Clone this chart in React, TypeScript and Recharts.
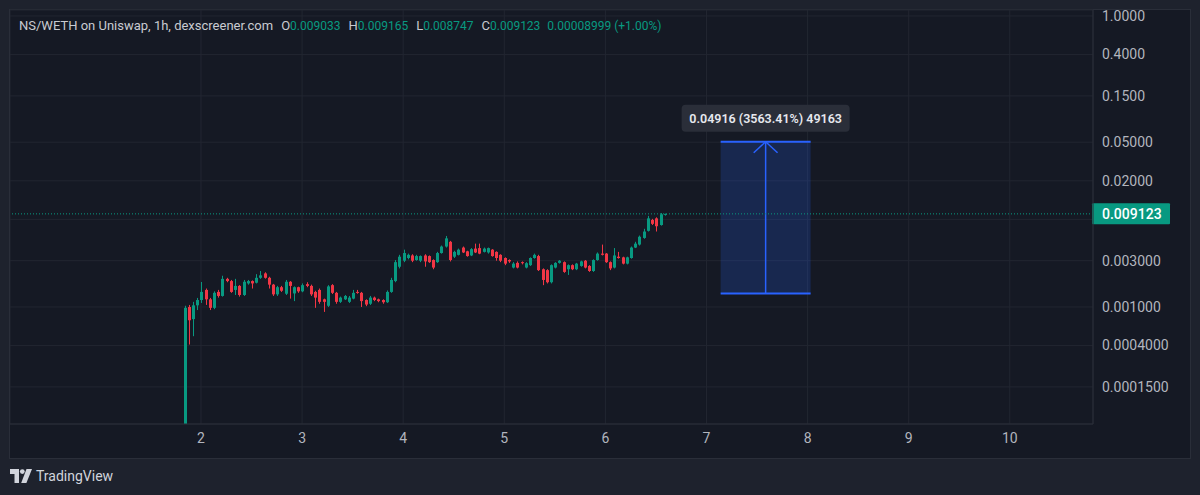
import {
  ComposedChart, Bar, XAxis, YAxis, CartesianGrid, ReferenceLine, ReferenceArea,
} from 'recharts';

const GREEN = '#089981';
const RED = '#f23645';
const BLUE = '#2962ff';
const TEXT = '#b2b5be';

// hourly candles, the first one opens at 20:00 on day 1
const firstHour = 1 + 20 / 24;

// [open, high, low, close] in WETH
const ohlc: [number, number, number, number][] = [
  [0.00006, 0.00103, 0.00006, 0.00098],
  [0.00100, 0.00105, 0.00041, 0.00073],
  [0.00075, 0.00113, 0.00050, 0.00104],
  [0.00104, 0.00124, 0.00093, 0.00118],
  [0.00118, 0.00181, 0.00110, 0.00143],
  [0.00150, 0.00155, 0.00105, 0.00120],
  [0.00120, 0.00124, 0.00093, 0.00098],
  [0.00098, 0.00145, 0.00095, 0.00140],
  [0.00143, 0.00150, 0.00125, 0.00130],
  [0.00130, 0.00210, 0.00128, 0.00195],
  [0.00195, 0.00200, 0.00180, 0.00185],
  [0.00185, 0.00190, 0.00140, 0.00143],
  [0.00150, 0.00195, 0.00133, 0.00165],
  [0.00165, 0.00168, 0.00128, 0.00133],
  [0.00133, 0.00190, 0.00130, 0.00182],
  [0.00175, 0.00190, 0.00170, 0.00185],
  [0.00185, 0.00188, 0.00155, 0.00175],
  [0.00178, 0.00218, 0.00175, 0.00200],
  [0.00200, 0.00235, 0.00195, 0.00212],
  [0.00222, 0.00228, 0.00196, 0.00200],
  [0.00200, 0.00205, 0.00155, 0.00170],
  [0.00170, 0.00173, 0.00130, 0.00135],
  [0.00135, 0.00165, 0.00130, 0.00160],
  [0.00160, 0.00165, 0.00143, 0.00147],
  [0.00137, 0.00190, 0.00133, 0.00182],
  [0.00182, 0.00185, 0.00122, 0.00165],
  [0.00138, 0.00163, 0.00115, 0.00160],
  [0.00160, 0.00162, 0.00140, 0.00145],
  [0.00145, 0.00175, 0.00142, 0.00168],
  [0.00172, 0.00180, 0.00160, 0.00165],
  [0.00165, 0.00170, 0.00130, 0.00135],
  [0.00143, 0.00147, 0.00098, 0.00125],
  [0.00150, 0.00155, 0.00108, 0.00113],
  [0.00120, 0.00122, 0.00089, 0.00113],
  [0.00103, 0.00168, 0.00100, 0.00163],
  [0.00168, 0.00172, 0.00136, 0.00140],
  [0.00140, 0.00143, 0.00108, 0.00113],
  [0.00113, 0.00128, 0.00110, 0.00125],
  [0.00120, 0.00133, 0.00118, 0.00130],
  [0.00113, 0.00130, 0.00110, 0.00125],
  [0.00122, 0.00150, 0.00120, 0.00140],
  [0.00143, 0.00150, 0.00137, 0.00140],
  [0.00140, 0.00143, 0.00100, 0.00115],
  [0.00118, 0.00120, 0.00102, 0.00106],
  [0.00108, 0.00130, 0.00105, 0.00125],
  [0.00125, 0.00128, 0.00115, 0.00118],
  [0.00120, 0.00122, 0.00112, 0.00115],
  [0.00118, 0.00120, 0.00108, 0.00112],
  [0.00112, 0.00148, 0.00110, 0.00143],
  [0.00143, 0.00200, 0.00140, 0.00190],
  [0.00185, 0.00305, 0.00180, 0.00290],
  [0.00260, 0.00345, 0.00250, 0.00330],
  [0.00300, 0.00390, 0.00290, 0.00360],
  [0.00320, 0.00355, 0.00310, 0.00345],
  [0.00340, 0.00350, 0.00290, 0.00300],
  [0.00305, 0.00345, 0.00300, 0.00335],
  [0.00300, 0.00340, 0.00290, 0.00335],
  [0.00340, 0.00350, 0.00260, 0.00295],
  [0.00335, 0.00340, 0.00285, 0.00290],
  [0.00305, 0.00310, 0.00245, 0.00255],
  [0.00290, 0.00370, 0.00285, 0.00360],
  [0.00360, 0.00430, 0.00355, 0.00420],
  [0.00420, 0.00540, 0.00410, 0.00510],
  [0.00470, 0.00480, 0.00295, 0.00305],
  [0.00330, 0.00380, 0.00320, 0.00370],
  [0.00345, 0.00400, 0.00340, 0.00390],
  [0.00410, 0.00420, 0.00360, 0.00365],
  [0.00375, 0.00380, 0.00330, 0.00335],
  [0.00340, 0.00405, 0.00335, 0.00395],
  [0.00400, 0.00450, 0.00360, 0.00365],
  [0.00405, 0.00450, 0.00350, 0.00355],
  [0.00370, 0.00410, 0.00365, 0.00400],
  [0.00365, 0.00410, 0.00355, 0.00405],
  [0.00390, 0.00395, 0.00330, 0.00335],
  [0.00370, 0.00375, 0.00300, 0.00320],
  [0.00345, 0.00350, 0.00290, 0.00300],
  [0.00320, 0.00325, 0.00270, 0.00280],
  [0.00305, 0.00310, 0.00285, 0.00295],
  [0.00255, 0.00290, 0.00250, 0.00280],
  [0.00285, 0.00295, 0.00250, 0.00255],
  [0.00290, 0.00295, 0.00275, 0.00283],
  [0.00255, 0.00290, 0.00250, 0.00283],
  [0.00270, 0.00325, 0.00265, 0.00320],
  [0.00320, 0.00355, 0.00315, 0.00345],
  [0.00335, 0.00345, 0.00235, 0.00240],
  [0.00245, 0.00250, 0.00168, 0.00190],
  [0.00240, 0.00245, 0.00175, 0.00180],
  [0.00180, 0.00275, 0.00175, 0.00270],
  [0.00255, 0.00290, 0.00250, 0.00285],
  [0.00285, 0.00305, 0.00280, 0.00300],
  [0.00290, 0.00295, 0.00225, 0.00230],
  [0.00245, 0.00275, 0.00214, 0.00270],
  [0.00270, 0.00275, 0.00240, 0.00245],
  [0.00245, 0.00285, 0.00240, 0.00280],
  [0.00265, 0.00300, 0.00260, 0.00295],
  [0.00300, 0.00305, 0.00250, 0.00255],
  [0.00265, 0.00270, 0.00230, 0.00235],
  [0.00235, 0.00310, 0.00230, 0.00305],
  [0.00305, 0.00365, 0.00300, 0.00355],
  [0.00355, 0.00440, 0.00340, 0.00345],
  [0.00355, 0.00360, 0.00285, 0.00290],
  [0.00290, 0.00295, 0.00240, 0.00250],
  [0.00255, 0.00405, 0.00250, 0.00340],
  [0.00330, 0.00370, 0.00315, 0.00320],
  [0.00325, 0.00330, 0.00275, 0.00280],
  [0.00280, 0.00330, 0.00275, 0.00325],
  [0.00320, 0.00420, 0.00315, 0.00410],
  [0.00410, 0.00470, 0.00405, 0.00450],
  [0.00440, 0.00545, 0.00430, 0.00530],
  [0.00515, 0.00640, 0.00505, 0.00600],
  [0.00610, 0.00870, 0.00600, 0.00820],
  [0.00790, 0.00810, 0.00700, 0.00720],
  [0.00820, 0.00840, 0.00600, 0.00680],
  [0.00700, 0.00930, 0.00690, 0.00903],
  [0.009033, 0.009165, 0.008747, 0.009123],
];

const dayTicks = [2, 3, 4, 5, 6, 7, 8, 9, 10];
const priceTicks = [1, 0.4, 0.15, 0.05, 0.02, 0.008, 0.003, 0.001, 0.0004, 0.00015];
const priceLabels = ['1.0000', '0.4000', '0.1500', '0.05000', '0.02000', '', '0.003000', '0.001000', '0.0004000', '0.0001500'];

const lastPrice = 0.009123;
const lastPriceLabel = '0.009123';

const legendKeys = ['O', 'H', 'L', 'C'];
const legendValues = ['0.009033', '0.009165', '0.008747', '0.009123'];
const legendChange = '0.00008999 (+1.00%)';

// price range measurement drawn on the chart
const measureDays = [7.14, 8.03];
const measurePrices = [0.00138, 0.05054];
const measureText = '0.04916 (3563.41%) 49163';

const data = ohlc.map(([open, high, low, close], i) => ({
  t: firstHour + i / 24, open, high, low, close,
}));

function Candle(props: any) {
  const { x, y, width, height, payload } = props;
  if (!payload || height == null || isNaN(y)) return null;
  const { open, high, low, close } = payload;
  const color = close >= open ? GREEN : RED;
  const lh = Math.log(high);
  const ll = Math.log(low);
  const at = (v: number) => y + ((lh - Math.log(v)) / (lh - ll)) * height;
  const top = at(Math.max(open, close));
  const bottom = at(Math.min(open, close));
  const cx = Math.round(x + width / 2);
  return (
    <g>
      <line x1={cx + 0.5} x2={cx + 0.5} y1={y} y2={y + height} stroke={color} strokeWidth={1} />
      <rect x={cx - 1} y={top} width={3} height={Math.max(1, bottom - top)} fill={color} />
    </g>
  );
}

function PriceTick(props: any) {
  const { x, y, payload } = props;
  const idx = priceTicks.indexOf(payload.value);
  const label = idx >= 0 ? priceLabels[idx] : '';
  if (!label) return null;
  return (
    <text x={x} y={y} dy="0.35em" textAnchor="start" fill={TEXT} fontSize={14}>
      {label}
    </text>
  );
}

function PriceTag(props: any) {
  const vb = props.viewBox;
  if (!vb) return null;
  const right = vb.x + vb.width;
  return (
    <g>
      <rect x={right - 1} y={vb.y - 10.5} width={78} height={21} fill={GREEN} rx={1} />
      <text x={right + 9} y={vb.y} dy="0.35em" fill="#ffffff" fontSize={14} fontWeight={500}>
        {lastPriceLabel}
      </text>
    </g>
  );
}

function MeasureTag(props: any) {
  const vb = props.viewBox;
  if (!vb) return null;
  const cx = vb.x + vb.width / 2;
  return (
    <g>
      <rect x={cx - 84} y={vb.y - 37} width={168} height={27} rx={4} fill="#2a2e39" />
      <text x={cx} y={vb.y - 23.5} dy="0.35em" textAnchor="middle" fill="#e6e8ee" fontSize={12.5} fontWeight={600}>
        {measureText}
      </text>
    </g>
  );
}

function Logo() {
  return (
    <svg width={22} height={14} viewBox="0 0 22 14" style={{ marginRight: 4 }}>
      <path d="M0 0h9v14H4.5V5H0z" fill="#d1d4dc" />
      <circle cx={12.3} cy={2.6} r={2.4} fill="#d1d4dc" />
      <path d="M16.5 0H22l-5.6 14h-5.2z" fill="#d1d4dc" />
    </svg>
  );
}

export default function App() {
  const [mx1, mx2] = measureDays;
  const [py1, py2] = measurePrices;
  const mid = (mx1 + mx2) / 2;
  const armX = 0.118;
  const armY = py2 * 0.77;

  return (
    <div style={{ position: 'relative', width: 1200, height: 495, background: '#1e222d', fontFamily: 'Roboto, sans-serif', overflow: 'hidden' }}>
      <style>{'body{margin:0}'}</style>
      {/* chart panel */}
      <div style={{ position: 'absolute', left: 10, top: 10, width: 1180, height: 448, background: '#151924', boxShadow: '0 0 0 1px #2a2e39' }} />
      {/* the svg starts a little above the panel so the top price label is not clipped */}
      <div style={{ position: 'absolute', left: 10, top: 2 }}>
        <ComposedChart width={1180} height={456} data={data} margin={{ top: 8, right: 0, bottom: 0, left: 0 }}>
          <CartesianGrid stroke="#222631" />
          <XAxis
            dataKey="t"
            type="number"
            domain={[0.111, 10.823]}
            allowDataOverflow
            ticks={dayTicks}
            interval={0}
            height={34}
            tickLine={false}
            tickSize={0}
            tickMargin={9}
            axisLine={{ stroke: '#2a2e39' }}
            tick={{ fill: TEXT, fontSize: 14 }}
          />
          <YAxis
            orientation="right"
            scale="log"
            domain={[0.0000622, 1.153]}
            allowDataOverflow
            ticks={priceTicks}
            interval={0}
            width={97}
            tickLine={false}
            tickSize={0}
            tickMargin={9}
            axisLine={{ stroke: '#2a2e39' }}
            tick={<PriceTick />}
          />
          <ReferenceArea x1={mx1} x2={mx2} y1={py1} y2={py2} fill={BLUE} fillOpacity={0.2} stroke="none" label={<MeasureTag />} />
          <ReferenceLine segment={[{ x: mx1, y: py2 }, { x: mx2, y: py2 }]} stroke={BLUE} strokeWidth={2} />
          <ReferenceLine segment={[{ x: mx1, y: py1 }, { x: mx2, y: py1 }]} stroke={BLUE} strokeWidth={2} />
          <ReferenceLine segment={[{ x: mid, y: py1 }, { x: mid, y: py2 }]} stroke={BLUE} strokeWidth={1.5} />
          <ReferenceLine segment={[{ x: mid - armX, y: armY }, { x: mid, y: py2 }]} stroke={BLUE} strokeWidth={1.5} />
          <ReferenceLine segment={[{ x: mid + armX, y: armY }, { x: mid, y: py2 }]} stroke={BLUE} strokeWidth={1.5} />
          <ReferenceLine y={lastPrice} stroke={GREEN} strokeDasharray="1 2" label={<PriceTag />} />
          <Bar dataKey={(d: any) => [d.low, d.high]} barSize={3} shape={<Candle />} isAnimationActive={false} />
        </ComposedChart>
      </div>
      <div style={{ position: 'absolute', left: 19, top: 17, fontSize: 13, lineHeight: '18px', color: '#c9cbd1', whiteSpace: 'nowrap' }}>
        <span>NS/WETH on Uniswap, 1h, dexscreener.com</span>
        {legendKeys.map((k, i) => (
          <span key={k} style={{ marginLeft: 8 }}>
            {k}<span style={{ color: GREEN, fontSize: 12 }}>{legendValues[i]}</span>
          </span>
        ))}
        <span style={{ marginLeft: 7, color: GREEN, fontSize: 12 }}>{legendChange}</span>
      </div>
      <div style={{ position: 'absolute', left: 10, top: 468, display: 'flex', alignItems: 'center', color: '#d1d4dc', fontSize: 14 }}>
        <Logo />
        <span>TradingView</span>
      </div>
    </div>
  );
}
